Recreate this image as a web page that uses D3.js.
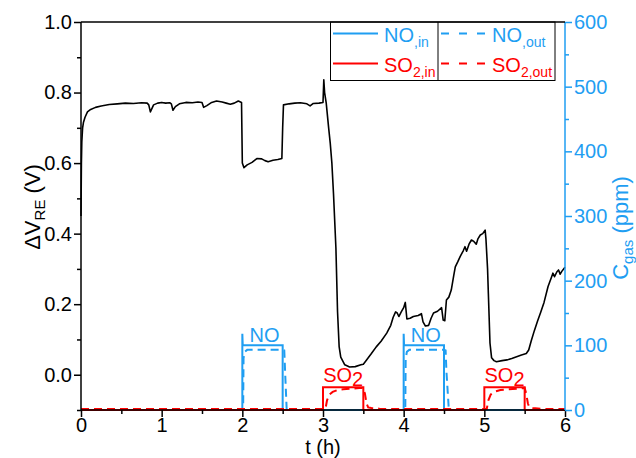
<!DOCTYPE html>
<html><head><meta charset="utf-8">
<script src="https://cdn.jsdelivr.net/npm/d3@7"></script>
<style>body{margin:0;background:#fff}svg{display:block}text{font-family:"Liberation Sans",Arial,sans-serif}</style>
</head><body>
<svg id="c" width="636" height="458"></svg>
<script>
// ---- data ----
const dvTime = [0,0.005,0.01,0.02,0.03,0.05,0.08,0.12,0.18,0.25,0.35,0.45,0.55,0.65,0.75,0.82,0.84,0.86,0.9,0.95,1.0,1.05,1.1,1.12,1.14,1.17,1.22,1.3,1.38,1.45,1.5,1.52,1.56,1.62,1.68,1.75,1.8,1.85,1.9,1.95,1.99,2.0,2.02,2.06,2.12,2.18,2.24,2.28,2.32,2.38,2.44,2.49,2.5,2.51,2.58,2.65,2.72,2.8,2.84,2.88,2.95,3.0,3.01,3.02,3.04,3.07,3.09,3.11,3.13,3.16,3.18,3.2,3.22,3.27,3.33,3.4,3.47,3.5,3.54,3.6,3.66,3.72,3.79,3.84,3.87,3.9,3.92,3.94,3.97,4.0,4.02,4.04,4.08,4.12,4.18,4.22,4.24,4.27,4.31,4.34,4.37,4.42,4.47,4.49,4.51,4.53,4.56,4.59,4.62,4.64,4.67,4.7,4.74,4.76,4.78,4.81,4.84,4.87,4.9,4.92,4.95,4.98,5.01,5.02,5.04,5.05,5.07,5.09,5.12,5.15,5.22,5.28,5.34,5.4,5.46,5.52,5.55,5.58,5.62,5.66,5.7,5.74,5.79,5.83,5.85,5.87,5.9,5.92,5.94,5.96,6.0];
const dvValue = [0.45,0.6,0.66,0.7,0.715,0.73,0.745,0.752,0.758,0.762,0.766,0.768,0.77,0.769,0.771,0.77,0.765,0.745,0.765,0.77,0.772,0.77,0.771,0.768,0.75,0.76,0.768,0.772,0.771,0.773,0.772,0.758,0.763,0.772,0.776,0.773,0.77,0.767,0.77,0.776,0.772,0.6,0.587,0.595,0.602,0.613,0.612,0.607,0.604,0.608,0.61,0.613,0.7,0.765,0.768,0.77,0.771,0.768,0.762,0.769,0.77,0.772,0.836,0.8,0.77,0.7,0.656,0.6,0.514,0.36,0.18,0.08,0.05,0.028,0.022,0.023,0.028,0.03,0.042,0.06,0.079,0.095,0.118,0.14,0.163,0.178,0.175,0.165,0.178,0.19,0.205,0.158,0.16,0.165,0.168,0.173,0.15,0.138,0.14,0.16,0.175,0.18,0.19,0.155,0.153,0.212,0.22,0.24,0.28,0.306,0.32,0.335,0.352,0.363,0.35,0.37,0.382,0.378,0.37,0.385,0.396,0.4,0.41,0.385,0.3,0.23,0.09,0.048,0.04,0.037,0.04,0.042,0.046,0.051,0.056,0.06,0.07,0.095,0.125,0.152,0.178,0.205,0.25,0.275,0.288,0.278,0.292,0.297,0.285,0.293,0.305];

const noInTime   = [0,2.0,2.0,2.005,2.5,2.5,4.0,4.0,4.005,4.5,4.5,6];
const noInValue  = [0,0,118,100,100,0,0,118,100,100,0,0];
const noOutTime  = [0,2.01,2.015,2.03,2.06,2.5,2.52,2.53,2.55,4.02,4.025,4.04,4.07,4.5,4.52,4.53,4.56,6];
const noOutValue = [0,0,80,90,93,93,92,60,0,0,80,90,93,93,92,60,0,0];
const so2InTime  = [0,3.0,3.0,3.5,3.5,5.0,5.0,5.5,5.5,6];
const so2InValue = [0,0,35,35,0,0,35,35,0,0];
const so2OutTime  = [0,3.03,3.05,3.08,3.12,3.18,3.25,3.35,3.45,3.5,3.52,3.54,3.56,3.6,3.7,3.8,5.03,5.05,5.08,5.12,5.2,5.3,5.4,5.5,5.52,5.54,5.56,5.6,5.7,5.8,6];
const so2OutValue = [1.5,1.5,15,24,28,31,32,33,34,34,25,10,4,3,2,1.5,1.5,15,24,28,31,32,33,34,25,10,4,3,2,1.5,1.5];

const xTicks = [0,1,2,3,4,5,6];
const yLeftTicks = [0.0,0.2,0.4,0.6,0.8,1.0];
const yRightTicks = [0,100,200,300,400,500,600];

// ---- drawing ----
const BLUE = "#1f9ef2", RED = "#ff0000";
const svg = d3.select("#c");
const L = 81, R = 565, T = 22, B = 410;
const x = d3.scaleLinear().domain([0,6]).range([L,R]);
const yL = d3.scaleLinear().domain([-0.1,1.0]).range([B,T]);
const yR = d3.scaleLinear().domain([0,600]).range([B,T]);
const FS = 20, TFS = 22;

const zip = (a,b) => a.map((t,i)=>[t,b[i]]);
const lineL = d3.line().x(d=>x(d[0])).y(d=>yL(d[1]));
const lineR = d3.line().x(d=>x(d[0])).y(d=>yR(d[1]));

// gas series
svg.append("path").attr("d", lineR(zip(noOutTime,noOutValue))).attr("fill","none").attr("stroke",BLUE).attr("stroke-width",2).attr("stroke-dasharray","8,5");
svg.append("path").attr("d", lineR(zip(noInTime,noInValue))).attr("fill","none").attr("stroke",BLUE).attr("stroke-width",2);
svg.append("path").attr("d", lineR(zip(so2InTime,so2InValue))).attr("fill","none").attr("stroke",RED).attr("stroke-width",2);
svg.append("path").attr("d", lineR(zip(so2OutTime,so2OutValue))).attr("fill","none").attr("stroke",RED).attr("stroke-width",2).attr("stroke-dasharray","8,5");

// black series
svg.append("path").attr("d", lineL(zip(dvTime,dvValue))).attr("fill","none").attr("stroke","#000").attr("stroke-width",1.6).attr("stroke-linejoin","round");

// labels on pulses
function labelNO(t0,t1){
  svg.append("text").attr("x",x((t0+t1)/2)+2).attr("y",yR(100)-3.5).attr("text-anchor","middle").attr("fill",BLUE).attr("font-size",FS).text("NO");
}
function labelSO2(t0,t1){
  const tx = svg.append("text").attr("x",x((t0+t1)/2)).attr("y",yR(35)-5.5).attr("text-anchor","middle").attr("fill",RED).attr("font-size",FS);
  tx.append("tspan").text("SO");
  tx.append("tspan").attr("dy",4).text("2");
}
labelNO(2,2.5); labelNO(4,4.5); labelSO2(3,3.5); labelSO2(5,5.5);

// axes
const axB = svg.append("g").attr("transform",`translate(0,${B})`)
  .call(d3.axisBottom(x).tickValues(d3.range(0,6.01,0.5)).tickSize(7).tickFormat(d=>xTicks.includes(d)?d3.format("d")(d):""));
axB.selectAll(".tick line").attr("y2",d=>xTicks.includes(d)?7:4);
const axLft = svg.append("g").attr("transform",`translate(${L},0)`)
  .call(d3.axisLeft(yL).tickValues(d3.range(-0.1,1.001,0.1).map(v=>+v.toFixed(1))).tickSize(7).tickFormat(d=>yLeftTicks.includes(d)?d3.format(".1f")(d):""));
axLft.selectAll(".tick line").attr("x2",d=>yLeftTicks.includes(d)?-7:-4);
const axRgt = svg.append("g").attr("transform",`translate(${R},0)`)
  .call(d3.axisRight(yR).tickValues(d3.range(0,601,50)).tickSize(7).tickFormat(d=>yRightTicks.includes(d)?d:""));
axRgt.selectAll(".tick line").attr("x2",d=>yRightTicks.includes(d)?7:4);

[axB,axLft,axRgt].forEach(g=>{
  g.selectAll("text").attr("font-size",FS).attr("font-family","Liberation Sans, Arial, sans-serif");
  g.selectAll("path.domain").attr("stroke-width",1.5);
  g.selectAll(".tick line").attr("stroke-width",1.5);
});
axB.selectAll("text").attr("fill","#000").attr("y",8).attr("dy","0.71em");
axLft.selectAll("text").attr("fill","#000").attr("x",-9);
axRgt.selectAll("text").attr("fill",BLUE).attr("x",9);
axRgt.selectAll("path.domain, .tick line").attr("stroke",BLUE);
axB.select("path.domain").attr("d",`M${L},0H${R}`);
axLft.select("path.domain").attr("d",`M0,${T}V${B}`);
axRgt.select("path.domain").attr("d",`M0,${T}V${B}`);

// axis titles
svg.append("text").attr("x",(L+R)/2).attr("y",454).attr("text-anchor","middle").attr("font-size",FS).text("t (h)");
const yt = svg.append("text").attr("transform",`translate(40,207) rotate(-90)`).attr("text-anchor","middle").attr("font-size",TFS);
yt.append("tspan").text("ΔV");
yt.append("tspan").attr("font-size",15).attr("dy",5).text("RE");
yt.append("tspan").attr("dy",-5).text(" (V)");
const rt = svg.append("text").attr("transform",`translate(628,228) rotate(-90)`).attr("text-anchor","middle").attr("font-size",TFS).attr("fill",BLUE);
rt.append("tspan").text("C");
rt.append("tspan").attr("font-size",15).attr("dy",5).text("gas");
rt.append("tspan").attr("dy",-5).text(" (ppm)");

// legend
const lg = svg.append("g");
const lgL = 330.5, lgM = 438, lgR = 555, lgB = 80.5;
lg.append("rect").attr("x",lgL).attr("y",T).attr("width",lgR-lgL).attr("height",lgB-T).attr("fill","#fff").attr("stroke","#000").attr("stroke-width",1);
lg.append("line").attr("x1",lgM).attr("x2",lgM).attr("y1",T).attr("y2",lgB).attr("stroke","#000").attr("stroke-width",1);
const legendItems = [
  {col:0,row:0,color:BLUE,dash:null,main:"NO",sub:",in"},
  {col:1,row:0,color:BLUE,dash:"8,10",main:"NO",sub:",out"},
  {col:0,row:1,color:RED,dash:null,main:"SO",sub:"2,in"},
  {col:1,row:1,color:RED,dash:"8,10",main:"SO",sub:"2,out"}
];
legendItems.forEach(it=>{
  const x0 = it.col===0 ? 333 : 441;
  const yy = it.row===0 ? 33.5 : 63.5;
  const ln = lg.append("line").attr("x1",x0).attr("x2",x0+45).attr("y1",yy).attr("y2",yy).attr("stroke",it.color).attr("stroke-width",2);
  if(it.dash) ln.attr("stroke-dasharray",it.dash);
  const tx = lg.append("text").attr("x",x0+51).attr("y",yy+8.5).attr("fill",it.color).attr("font-size",FS);
  tx.append("tspan").text(it.main);
  tx.append("tspan").attr("font-size",14).attr("dy",5).text(it.sub);
});
// top frame (over legend)
svg.append("line").attr("x1",L).attr("x2",R).attr("y1",T).attr("y2",T).attr("stroke","#000").attr("stroke-width",1.5);
</script>
</body></html>
